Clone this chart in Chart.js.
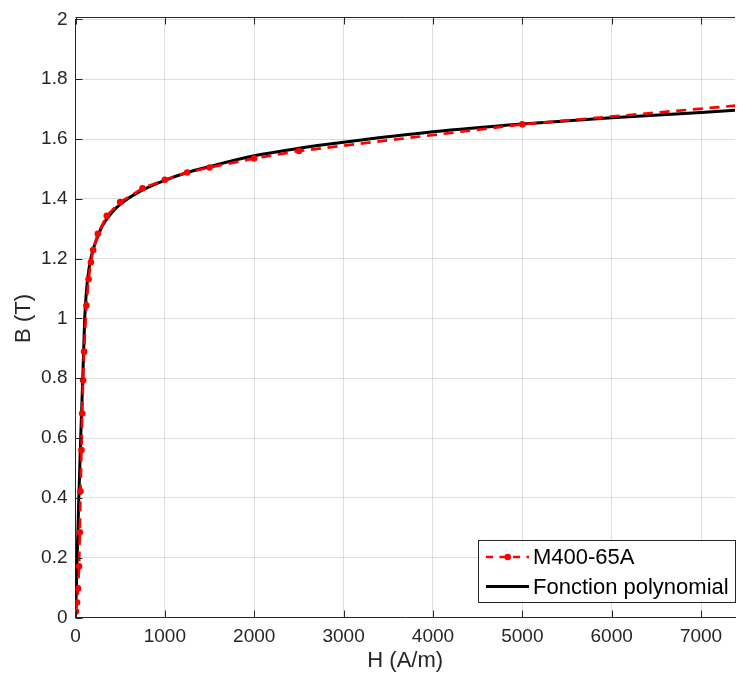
<!DOCTYPE html>
<html>
<head>
<meta charset="utf-8">
<script src="https://cdn.jsdelivr.net/npm/chart.js@4/dist/chart.umd.min.js"></script>
<style>
	html, body { margin: 0; padding: 0; background: #fff; }
	#bhChart { display: block; }
</style>
</head>
<body>
<canvas id="bhChart" width="739" height="677"></canvas>
<script>
// measured B-H points of the M400-65A sheet
var measH = [5, 18, 29, 40, 48, 56, 67, 75, 85, 96, 122, 146, 172, 198, 250, 350, 500, 750, 1000, 1250, 1500, 2000, 2500, 5000, 10000];
var measB = [0.02, 0.05, 0.097, 0.171, 0.285, 0.422, 0.56, 0.682, 0.793, 0.889, 1.043, 1.131, 1.188, 1.229, 1.283, 1.343, 1.389, 1.435, 1.464, 1.488, 1.505, 1.535, 1.56, 1.649, 1.78];

// polynomial fit
var polyH = [0, 10, 18, 28, 37, 48, 58, 70, 81, 92, 103, 122, 150, 180, 215, 260, 307, 400, 493, 715, 1000, 1250, 1500, 2000, 2500, 3000, 4000, 5000, 6000, 7000, 7500];
var polyB = [0, 0.1, 0.2, 0.3, 0.4, 0.5, 0.6, 0.7, 0.8, 0.9, 1.0, 1.091, 1.165, 1.212, 1.247, 1.283, 1.313, 1.352, 1.38, 1.424, 1.462, 1.488, 1.508, 1.544, 1.569, 1.589, 1.624, 1.65, 1.671, 1.689, 1.698];

var xTicks = [0, 1000, 2000, 3000, 4000, 5000, 6000, 7000];
var yTicks = [0, 0.2, 0.4, 0.6, 0.8, 1, 1.2, 1.4, 1.6, 1.8, 2];

var seriesNames = ["M400-65A", "Fonction polynomial"];
var xTitle = "H (A/m)";
var yTitle = "B (T)";

function toPoints(xs, ys) {
	var pts = [];
	for (var i = 0; i < xs.length; i++) {
		pts.push({x: xs[i], y: ys[i]});
	}
	return pts;
}

const AXIS_COLOR = '#262626';
const FONT = '"Liberation Sans", Arial, sans-serif';

// box on top + inward ticks, like matlab
var frameTicks = {
	id: 'frameTicks',
	afterDatasetsDraw: function(chart) {
		var ctx = chart.ctx;
		var area = chart.chartArea;
		var xs = chart.scales.x, ys = chart.scales.y;
		ctx.save();
		ctx.strokeStyle = AXIS_COLOR;
		ctx.lineWidth = 1;
		ctx.beginPath();
		ctx.moveTo(area.left, 17.5);
		ctx.lineTo(area.right, 17.5);
		xs.ticks.forEach(function(t) {
			var px = Math.round(xs.getPixelForValue(t.value)) + 0.5;
			ctx.moveTo(px, 617.5);
			ctx.lineTo(px, 610.5);
			ctx.moveTo(px, 17.5);
			ctx.lineTo(px, 24.5);
		});
		ys.ticks.forEach(function(t) {
			var py = Math.round(ys.getPixelForValue(t.value)) + 0.5;
			ctx.moveTo(75.5, py);
			ctx.lineTo(82.5, py);
		});
		ctx.stroke();
		ctx.restore();
	}
};

var boxLegend = {
	id: 'boxLegend',
	afterDraw: function(chart) {
		var ctx = chart.ctx;
		ctx.save();
		ctx.fillStyle = '#fff';
		ctx.fillRect(478.5, 540.5, 257, 62);
		ctx.strokeStyle = AXIS_COLOR;
		ctx.lineWidth = 1;
		ctx.strokeRect(478.5, 540.5, 257, 62);

		// red dashed sample with marker
		ctx.strokeStyle = '#ff0000';
		ctx.lineWidth = 2.7;
		ctx.setLineDash([7, 6.5]);
		ctx.beginPath();
		ctx.moveTo(486, 557);
		ctx.lineTo(529, 557);
		ctx.stroke();
		ctx.setLineDash([]);
		ctx.fillStyle = '#ff0000';
		ctx.beginPath();
		ctx.arc(507.7, 557, 3.3, 0, Math.PI * 2);
		ctx.fill();

		// black sample
		ctx.strokeStyle = '#000';
		ctx.lineWidth = 3;
		ctx.beginPath();
		ctx.moveTo(486, 586.5);
		ctx.lineTo(529, 586.5);
		ctx.stroke();

		ctx.fillStyle = '#000';
		ctx.font = '22px ' + FONT;
		ctx.textBaseline = 'middle';
		ctx.textAlign = 'left';
		ctx.fillText(seriesNames[0], 533, 558);
		ctx.fillText(seriesNames[1], 533, 587.5);
		ctx.restore();
	}
};

const CHART = document.getElementById('bhChart');
var myChart = new Chart(CHART, {
	type: 'line',
	data: {
		datasets: [{
			label: seriesNames[0],
			data: toPoints(measH, measB),
			borderColor: '#ff0000',
			backgroundColor: '#ff0000',
			borderWidth: 2.7,
			borderDash: [10, 6.7],
			pointRadius: 3.3,
			pointBorderWidth: 0,
			pointBackgroundColor: '#ff0000',
			tension: 0,
			fill: false,
			order: 0
		}, {
			label: seriesNames[1],
			data: toPoints(polyH, polyB),
			borderColor: '#000000',
			backgroundColor: '#000000',
			borderWidth: 3,
			pointRadius: 0,
			cubicInterpolationMode: 'monotone',
			fill: false,
			order: 1
		}]
	},
	options: {
		responsive: false,
		animation: false,
		devicePixelRatio: 1,
		layout: {
			padding: {top: 17.5, right: 0, bottom: 0, left: 0}
		},
		plugins: {
			legend: {display: false},
			tooltip: {enabled: false},
			title: {display: false}
		},
		scales: {
			x: {
				type: 'linear',
				min: 0,
				max: 7380,
				afterBuildTicks: function(scale) {
					scale.ticks = xTicks.map(function(v) { return {value: v}; });
				},
				afterFit: function(scale) { scale.height = 59.5; },
				ticks: {
					autoSkip: false,
					maxRotation: 0,
					padding: 8,
					color: AXIS_COLOR,
					font: {family: FONT, size: 19},
					callback: function(v) { return String(v); }
				},
				grid: {
					color: 'rgba(38,38,38,0.15)',
					lineWidth: 1,
					drawTicks: false
				},
				border: {display: true, color: AXIS_COLOR, width: 1},
				title: {
					display: true,
					text: xTitle,
					color: AXIS_COLOR,
					font: {family: FONT, size: 22, lineHeight: 1.2},
					padding: {top: 0, bottom: 2.8}
				}
			},
			y: {
				type: 'linear',
				min: 0,
				max: 2,
				afterBuildTicks: function(scale) {
					scale.ticks = yTicks.map(function(v) { return {value: v}; });
				},
				afterFit: function(scale) { scale.width = 75.5; },
				ticks: {
					autoSkip: false,
					padding: 8,
					color: AXIS_COLOR,
					font: {family: FONT, size: 19},
					callback: function(v) { return String(Number(v.toFixed(1))); }
				},
				grid: {
					color: 'rgba(38,38,38,0.15)',
					lineWidth: 1,
					drawTicks: false
				},
				border: {display: true, color: AXIS_COLOR, width: 1},
				title: {
					display: true,
					text: yTitle,
					color: AXIS_COLOR,
					font: {family: FONT, size: 22, lineHeight: 1.2},
					padding: {top: 10.8, bottom: 0}
				}
			}
		}
	},
	plugins: [frameTicks, boxLegend]
});
</script>
</body>
</html>
